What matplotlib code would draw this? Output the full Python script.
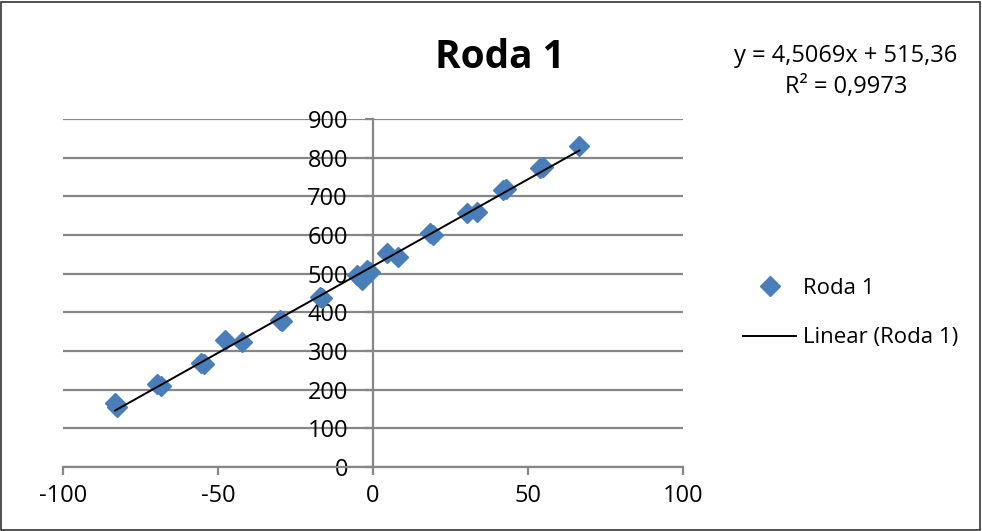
import numpy as np
import matplotlib.pyplot as plt
from matplotlib.patches import Rectangle

# values
x_vals = [-83.2, -82.5, -69.8, -68.3, -55.6, -54.4, -47.7, -42.4, -30.0, -29.2,
          -17.1, -16.5, -5.3, -3.6, -2.6, -2.0, -1.0, 4.4, 8.2, 18.4, 19.5,
          30.2, 33.4, 42.0, 43.0, 53.9, 54.8, 66.6]
y_vals = [165, 155, 214, 210, 270, 266, 328, 324, 380, 377,
          440, 436, 497, 484, 497, 509, 505, 553, 544, 604, 600,
          656, 660, 716, 718, 772, 776, 830]
x_ticks = [-100, -50, 0, 50, 100]
y_ticks = [0, 100, 200, 300, 400, 500, 600, 700, 800, 900]
series_name = "Roda 1"
trend_name = "Linear (Roda 1)"
equation_line = "y = 4,5069x + 515,36"
r2_line = "R² = 0,9973"

plt.rcParams["font.family"] = ["Open Sans", "DejaVu Sans"]
plt.rcParams["axes.unicode_minus"] = False

grey = "#868686"
blue = "#4A7EBB"

W, H = 982, 531
fig = plt.figure(figsize=(W / 100, H / 100), dpi=100)
ax = fig.add_axes([63 / W, (H - 467) / H, 620 / W, 348 / H])

ax.plot(x_vals, y_vals, linestyle="none", marker="D", ms=10.5, color=blue,
        markeredgecolor=blue, label=series_name, zorder=3)

# least squares trendline over the data range
slope, intercept = np.polyfit(x_vals, y_vals, 1)
xs = np.array([min(x_vals), max(x_vals)])
ax.plot(xs, slope * xs + intercept, color="black", lw=1.4, label=trend_name, zorder=4)

ax.set_xlim(-100, 100)
ax.set_ylim(0, 900)
ax.set_xticks(x_ticks)
ax.set_yticks(y_ticks)
ax.yaxis.grid(True, color=grey, lw=1.6)
ax.set_axisbelow(True)

ax.spines["top"].set_visible(False)
ax.spines["right"].set_visible(False)
ax.spines["left"].set_position(("data", 0))
for side in ("left", "bottom"):
    ax.spines[side].set_color(grey)
    ax.spines[side].set_linewidth(1.6)
ax.tick_params(axis="both", colors=grey, width=1.6, length=6, labelsize=17,
               labelcolor="black")
ax.tick_params(axis="x", pad=6)
ax.tick_params(axis="y", pad=12)

fig.text(500 / W, 1 - 68 / H, series_name, ha="center", va="baseline",
         fontsize=28, fontweight="bold")
fig.text(846 / W, 1 - 62 / H, equation_line, ha="center", va="baseline", fontsize=17)
fig.text(846 / W, 1 - 93 / H, r2_line, ha="center", va="baseline", fontsize=17)

fig.legend(loc="center left", bbox_to_anchor=(743 / W, 1 - 313 / H),
           frameon=False, fontsize=16, handlelength=2.4, handletextpad=0.3,
           labelspacing=1.3, borderpad=0, borderaxespad=0)

fig.add_artist(Rectangle((0.001, 0.002), 0.997, 0.995, transform=fig.transFigure,
                         fill=False, edgecolor="#333333", lw=1.2))

fig.savefig("out.png", dpi=100)
